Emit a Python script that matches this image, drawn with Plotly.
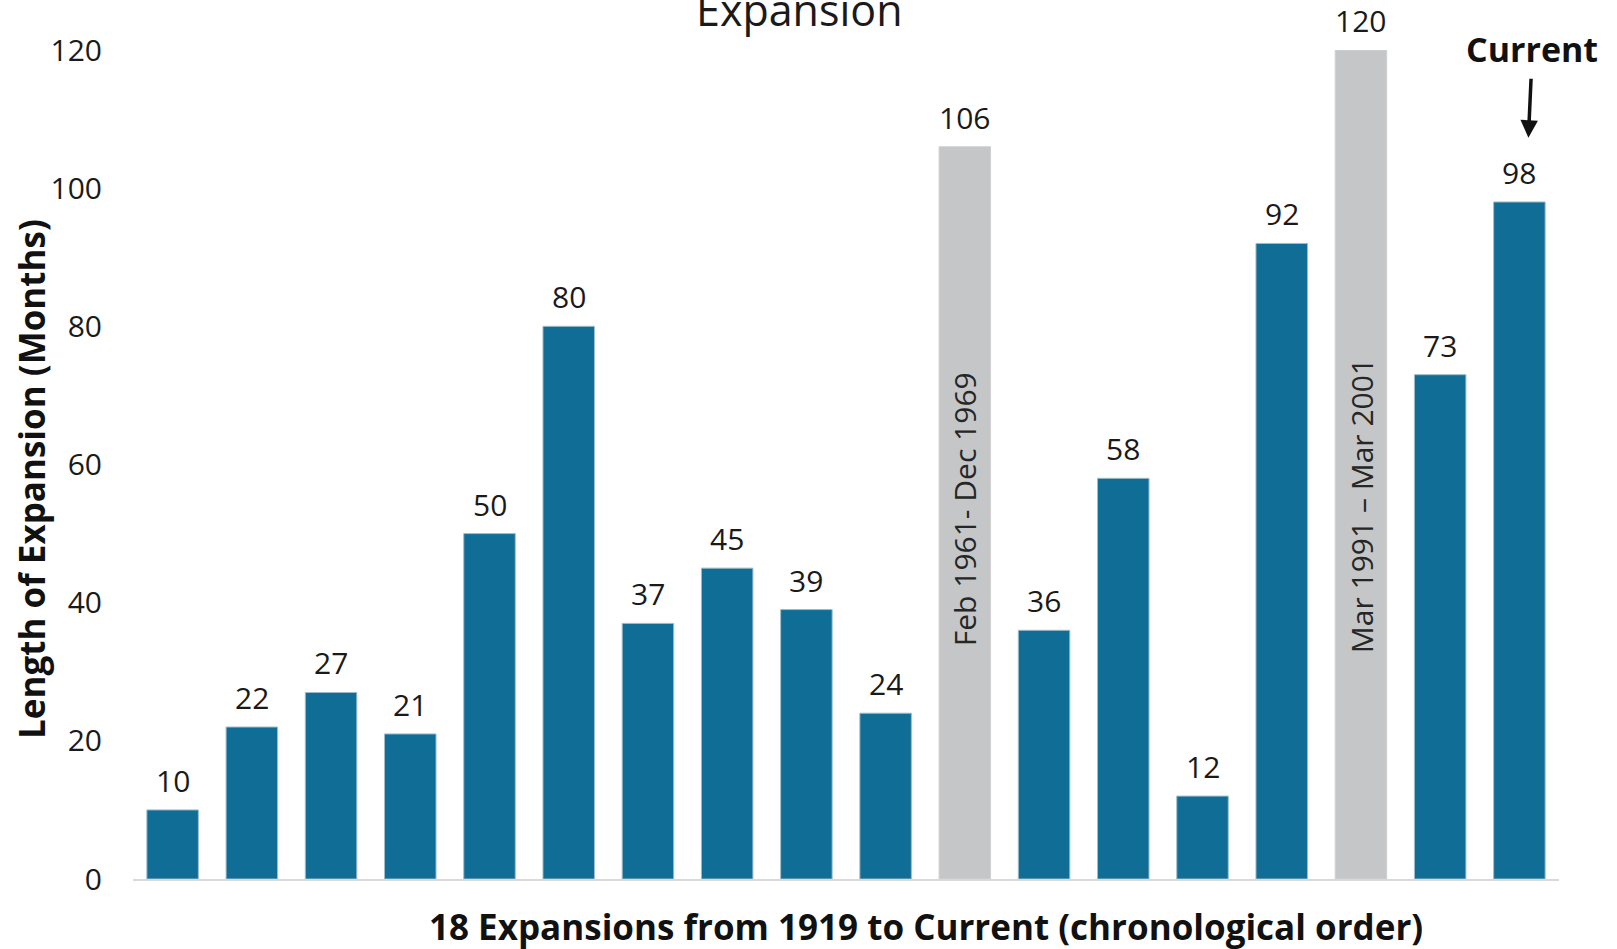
import plotly.graph_objects as go

# Length of each U.S. expansion, in months, in chronological order
expansion_index = list(range(1, 19))
months = [10, 22, 27, 21, 50, 80, 37, 45, 39, 24, 106, 36, 58, 12, 92, 120, 73, 98]

# The two record expansions are shaded grey and labelled with their dates
highlight_labels = {11: "Feb 1961- Dec 1969", 16: "Mar 1991 \u2013 Mar 2001"}
highlight_label_y = {11: 53.5, 16: 54.1}

y_ticks = [0, 20, 40, 60, 80, 100, 120]

BLUE = "#0F6D96"
GREY = "#C5C6C8"
NUM_FONT = "Open Sans"

# page geometry (pixels)
W, H = 1617, 949
L, R, T, B = 133, 58, 50, 70
pw, ph = W - L - R, H - T - B


def px_x(x):
    """page pixel column -> paper fraction"""
    return (x - L) / pw


def px_y(y):
    """page pixel row (from top) -> paper fraction"""
    return (H - B - y) / ph


colors = [GREY if i in highlight_labels else BLUE for i in expansion_index]
edge = ["#D0D0D0" if i in highlight_labels else "#9DBCCB" for i in expansion_index]

fig = go.Figure()
fig.add_trace(
    go.Bar(
        x=expansion_index,
        y=months,
        marker=dict(color=colors, line=dict(color=edge, width=1)),
        width=0.65,
        hoverinfo="x+y",
    )
)

annotations = []
# value labels above each bar
for i, v in zip(expansion_index, months):
    annotations.append(
        dict(
            x=i, y=v, xref="x", yref="y",
            text=str(v), showarrow=False,
            xanchor="center", yanchor="bottom", yshift=7,
            font=dict(family=NUM_FONT, size=30, color="#1a1a1a"),
        )
    )

# date ranges written up the grey bars
for i, label in highlight_labels.items():
    annotations.append(
        dict(
            x=i, y=highlight_label_y[i], xref="x", yref="y",
            text=label, showarrow=False, textangle=-90,
            xanchor="center", yanchor="middle",
            font=dict(family=NUM_FONT, size=30, color="#262626"),
        )
    )

# "Current" call-out with arrow pointing at the last bar
annotations.append(
    dict(
        x=18, y=107.3, xref="x", yref="y", xshift=9,
        text="<b>Current</b>", showarrow=True,
        arrowhead=2, arrowsize=1.0, arrowwidth=3.5, arrowcolor="#111111",
        ax=4, ay=-88.5, standoff=0, startstandoff=5,
        font=dict(family="Open Sans", size=34, color="#111111"),
    )
)

# chart title, sitting at the very top edge of the page
annotations.append(
    dict(
        x=px_x(799), y=px_y(10), xref="paper", yref="paper",
        text="Expansion", showarrow=False,
        xanchor="center", yanchor="middle",
        font=dict(family=NUM_FONT, size=43, color="#1a1a1a"),
    )
)

# axis titles
annotations.append(
    dict(
        x=px_x(926), y=px_y(926), xref="paper", yref="paper",
        text="<b>18 Expansions from 1919 to Current (chronological order)</b>",
        showarrow=False, xanchor="center", yanchor="middle",
        font=dict(family="Open Sans", size=35, color="#111111"),
    )
)
annotations.append(
    dict(
        x=px_x(31), y=px_y(479), xref="paper", yref="paper",
        text="<b>Length of Expansion (Months)</b>",
        showarrow=False, textangle=-90, xanchor="center", yanchor="middle",
        font=dict(family="Open Sans", size=35, color="#111111"),
    )
)

fig.update_layout(
    width=W, height=H,
    margin=dict(l=L, r=R, t=T, b=B),
    paper_bgcolor="white", plot_bgcolor="white",
    showlegend=False,
    annotations=annotations,
    xaxis=dict(
        range=[0.5, 18.5],
        showticklabels=False, ticks="",
        showgrid=False, zeroline=False,
        showline=True, linecolor="#D9D9D9", linewidth=2,
    ),
    yaxis=dict(
        range=[0, 120],
        tickvals=y_ticks,
        ticks="", ticklabelstandoff=30,
        tickfont=dict(family=NUM_FONT, size=30, color="#1a1a1a"),
        showgrid=False, zeroline=False, showline=False,
    ),
)

fig.write_html("out.html")
